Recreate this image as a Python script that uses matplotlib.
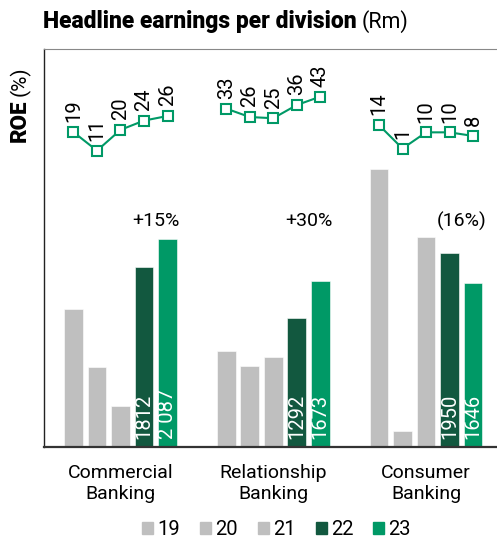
import numpy as np
import matplotlib.pyplot as plt
from matplotlib.patches import Patch

plt.rcParams['font.family'] = ['Roboto', 'DejaVu Sans']
plt.rcParams['font.size'] = 14

# data
divisions = ['Commercial\nBanking', 'Relationship\nBanking', 'Consumer\nBanking']
years = ['19', '20', '21', '22', '23']
commercial_he = [1390, 805, 410, 1812, 2087]
relationship_he = [968, 817, 908, 1292, 1673]
consumer_he = [2790, 165, 2107, 1950, 1646]
commercial_roe = [19, 11, 20, 24, 26]
relationship_roe = [33, 26, 25, 36, 43]
consumer_roe = [14, 1, 10, 10, 8]
he_labels = [['1812', '2 087'], ['1292', '1673'], ['1950', '1646']]
changes = ['+15%', '+30%', '(16%)']

earnings = [commercial_he, relationship_he, consumer_he]
roe = [commercial_roe, relationship_roe, consumer_roe]

grey = '#bfbfbf'
dark = '#12583f'
green = '#009966'
colors = [grey, grey, grey, dark, green]

fig = plt.figure(figsize=(4.97, 5.38), dpi=100)
ax = fig.add_axes([44/497, 91/538, 453/497, 398/538])

gap = 6.5
for g in range(3):
    x = g*gap + np.arange(5)
    ax.bar(x, earnings[g], width=0.8, color=colors, edgecolor='white', linewidth=0.4)
    for k in range(2):
        ax.text(x[3+k], 85, he_labels[g][k], rotation=90, ha='center', va='bottom',
                color='white', fontsize=14.5)
    ax.text(g*gap + 3.5, 2270, changes[g], ha='center', va='center', fontsize=14)

ax.set_xlim(-1.255, 18.02)
ax.set_ylim(0, 4000)
ax.set_xticks([g*gap + 2 for g in range(3)])
ax.set_xticklabels(divisions, fontsize=14, linespacing=1.25)
ax.tick_params(axis='x', length=0, pad=12)
ax.set_yticks([])
ax.spines['right'].set_visible(False)
ax.spines['top'].set_color('#888888')
ax.spines['top'].set_linewidth(0.8)
ax.spines['left'].set_color('#222222')
ax.spines['left'].set_linewidth(1.0)
ax.spines['bottom'].set_color('#333333')
ax.spines['bottom'].set_linewidth(1.6)

# ROE lines, each division on its own scale
roe_lims = [(-117.3, 55.0), (-249.0, 82.7), (-164.8, 56.3)]
for g in range(3):
    a2 = ax.twinx()
    a2.set_ylim(roe_lims[g])
    a2.axis('off')
    x = g*gap + np.arange(5)
    a2.plot(x, roe[g], color=green, lw=1.5, marker='s', ms=7.5,
            mfc='white', mec=green, mew=1.5)
    for xi, v in zip(x, roe[g]):
        a2.annotate(str(v), (xi, v), xytext=(0, 7), textcoords='offset points',
                    rotation=90, ha='center', va='bottom', fontsize=14.5)

# title
fig.canvas.draw()
r = fig.canvas.get_renderer()
t1 = fig.text(43/497, 1 - 28/538, 'Headline earnings per division', fontsize=16.5,
              fontweight='black', ha='left', va='baseline')
bb = t1.get_window_extent(r)
fig.text((bb.x1 + 5)/497, 1 - 28/538, '(Rm)', fontsize=15.5, ha='left', va='baseline')

# y label
y1 = fig.text(20/497, 1 - 142/538, 'ROE', fontsize=16, fontweight='black',
              rotation=90, ha='center', va='bottom')
bb = y1.get_window_extent(r)
fig.text(20/497, (bb.y1 + 4)/538, '(%)', fontsize=15, rotation=90,
         ha='center', va='bottom')

handles = [Patch(color=c) for c in colors]
fig.legend(handles, years, loc='center', bbox_to_anchor=(0.556, 0.015), ncol=5,
           frameon=False, handlelength=0.55, handleheight=0.55, handletextpad=0.2,
           columnspacing=1.0, fontsize=14.5, borderpad=0)

fig.savefig('out.png', dpi=100)
